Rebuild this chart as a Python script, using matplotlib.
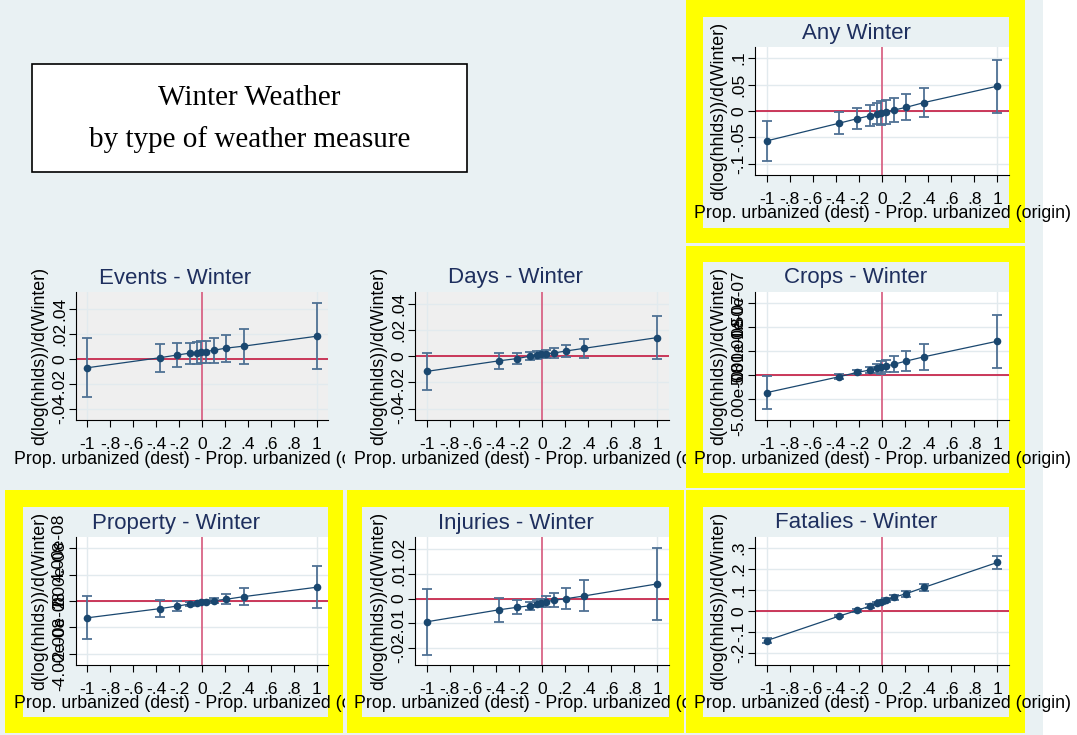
import matplotlib
matplotlib.use("Agg")
import matplotlib.pyplot as plt
from matplotlib.patches import Rectangle
from matplotlib.transforms import Bbox, TransformedBbox

plt.rcParams["font.family"] = ["Liberation Sans", "DejaVu Sans"]

# ---------------------------------------------------------------- data
# urbanization gap (destination minus origin) at which effects are evaluated
urban_gap = [-1.0, -0.37, -0.215, -0.105, -0.043, -0.005, 0.038, 0.108, 0.21, 0.365, 1.0]

x_ticks = [-1.0, -0.8, -0.6, -0.4, -0.2, 0.0, 0.2, 0.4, 0.6, 0.8, 1.0]
x_tick_labels = ["-1", "-.8", "-.6", "-.4", "-.2", "0", ".2", ".4", ".6", ".8", "1"]

any_coef = [-0.0566, -0.023, -0.0145, -0.009, -0.005, -0.004, -0.002, 0.002, 0.007, 0.016, 0.047]
any_ci = [0.0375, 0.0205, 0.020, 0.020, 0.020, 0.022, 0.0225, 0.0225, 0.0245, 0.028, 0.050]

events_coef = [-0.0072, 0.0008, 0.003, 0.0045, 0.005, 0.0053, 0.0058, 0.0069, 0.0085, 0.0101, 0.018]
events_ci = [0.0235, 0.0112, 0.0099, 0.0085, 0.0088, 0.0088, 0.0088, 0.0099, 0.0109, 0.0139, 0.0263]

days_coef = [-0.0116, -0.0035, -0.0018, 0.0, 0.001, 0.0013, 0.0018, 0.0025, 0.004, 0.006, 0.0142]
days_ci = [0.0144, 0.0059, 0.0042, 0.0030, 0.0028, 0.0030, 0.0032, 0.0039, 0.0049, 0.0073, 0.0161]

crops_coef = [-3.68e-8, -0.35e-8, 0.56e-8, 1.04e-8, 1.39e-8, 1.60e-8, 1.88e-8, 2.29e-8, 2.92e-8, 3.82e-8, 7.08e-8]
crops_ci = [3.4e-8, 0.5e-8, 0.4e-8, 0.7e-8, 1.0e-8, 1.3e-8, 1.3e-8, 1.6e-8, 2.05e-8, 2.75e-8, 5.55e-8]

property_coef = [-1.27e-8, -0.58e-8, -0.38e-8, -0.23e-8, -0.15e-8, -0.10e-8, -0.05e-8, 0.03e-8, 0.13e-8, 0.33e-8, 1.04e-8]
property_ci = [1.63e-8, 0.63e-8, 0.40e-8, 0.17e-8, 0.10e-8, 0.08e-8, 0.10e-8, 0.20e-8, 0.37e-8, 0.62e-8, 1.60e-8]

injuries_coef = [-0.0094, -0.0045, -0.0035, -0.0029, -0.002, -0.0016, -0.0012, -0.0006, 0.0, 0.0011, 0.006]
injuries_ci = [0.0133, 0.0048, 0.0028, 0.0017, 0.0014, 0.0016, 0.0022, 0.0027, 0.0042, 0.0063, 0.0146]

fatal_coef = [-0.14, -0.0236, 0.003, 0.0236, 0.036, 0.042, 0.052, 0.066, 0.082, 0.112, 0.23]
fatal_ci = [0.011, 0.006, 0.007, 0.008, 0.009, 0.010, 0.010, 0.012, 0.014, 0.018, 0.030]

# y-axis ticks and labels per panel
any_yticks = [-0.1, -0.05, 0.0, 0.05, 0.1]
any_ylabels = ["-.1", "-.05", "0", ".05", ".1"]
small_yticks = [-0.04, -0.02, 0.0, 0.02, 0.04]
small_ylabels = ["-.04", "-.02", "0", ".02", ".04"]
crops_yticks = [-5e-8, 0.0, 5e-8, 1e-7, 1.5e-7]
crops_ylabels = ["-5.00e-08", "0", "5.00e-08", "1.00e-07", "1.50e-07"]
property_yticks = [-4e-8, -2e-8, 0.0, 2e-8, 4e-8]
property_ylabels = ["-4.00e-08", "-2.00e-08", "0", "2.00e-08", "4.00e-08"]
injuries_yticks = [-0.02, -0.01, 0.0, 0.01, 0.02]
injuries_ylabels = ["-.02", "-.01", "0", ".01", ".02"]
fatal_yticks = [-0.2, -0.1, 0.0, 0.1, 0.2, 0.3]
fatal_ylabels = ["-.2", "-.1", "0", ".1", ".2", ".3"]

y_title = "d(log(hhlds))/d(Winter)"
x_title = "Prop. urbanized (dest) - Prop. urbanized (origin)"

# ---------------------------------------------------------------- layout
W, H, DPI = 1077, 735, 100
BG = "#e9f1f3"
YELLOW = "#ffff00"
NAVY = "#1a476f"
CI_COLOR = "#4f7194"
TITLE_COLOR = "#1e2f5e"
GRID = "#e2eaee"
HLINE = "#c4183f"
VLINE = "#d6587c"

col_x = [(76, 328), (415, 669), (755, 1009)]
row_y = [(47, 175), (292, 420), (537, 665)]
inner_x = [(23, 328), (362, 669), (703, 1009)]
inner_y = [(17, 228), (262, 473), (507, 717)]
yellow_x = [(5, 343), (347, 684), (686, 1025)]
yellow_y = [(0, 243), (246, 488), (490, 733)]
clip_right = [345, 686, W]

panels = [
    dict(title="Any Winter", coef=any_coef, ci=any_ci, yt=any_yticks, yl=any_ylabels,
         ylim=(-0.121, 0.121), col=2, row=0, hl=True),
    dict(title="Events - Winter", coef=events_coef, ci=events_ci, yt=small_yticks, yl=small_ylabels,
         ylim=(-0.049, 0.0534), col=0, row=1, hl=False),
    dict(title="Days - Winter", coef=days_coef, ci=days_ci, yt=small_yticks, yl=small_ylabels,
         ylim=(-0.0486, 0.0489), col=1, row=1, hl=False),
    dict(title="Crops - Winter", coef=crops_coef, ci=crops_ci, yt=crops_yticks, yl=crops_ylabels,
         ylim=(-9.4e-8, 1.736e-7), col=2, row=1, hl=True),
    dict(title="Property - Winter", coef=property_coef, ci=property_ci, yt=property_yticks,
         yl=property_ylabels, ylim=(-4.84e-8, 4.84e-8), col=0, row=2, hl=True),
    dict(title="Injuries - Winter", coef=injuries_coef, ci=injuries_ci, yt=injuries_yticks,
         yl=injuries_ylabels, ylim=(-0.0269, 0.025), col=1, row=2, hl=True),
    dict(title="Fatalies - Winter", coef=fatal_coef, ci=fatal_ci, yt=fatal_yticks, yl=fatal_ylabels,
         ylim=(-0.255, 0.35), col=2, row=2, hl=True),
]


def fx(px):
    return px / W


def fy(py):
    return 1 - py / H


def fig_rect(x0, y0, x1, y1, **kw):
    return Rectangle((fx(x0), fy(y1)), (x1 - x0) / W, (y1 - y0) / H,
                     transform=fig.transFigure, **kw)


fig = plt.figure(figsize=(W / DPI, H / DPI), dpi=DPI, facecolor="white")
fig.patches.append(fig_rect(0, 0, 1043, H, facecolor=BG, edgecolor="none", zorder=-3))

# title box
fig.patches.append(fig_rect(32, 64, 467, 172, facecolor="white", edgecolor="black",
                            linewidth=1.2, zorder=-1))
for line, ypx in (("Winter Weather", 98), ("by type of weather measure", 140)):
    fig.text(fx(249.5), fy(ypx), line, ha="center", va="center", fontsize=21,
             family=["Liberation Serif", "DejaVu Serif"], color="black")

for p in panels:
    c, r = p["col"], p["row"]
    x0, x1 = col_x[c]
    y0, y1 = row_y[r]
    ix0, ix1 = inner_x[c]
    iy0, iy1 = inner_y[r]

    if p["hl"]:
        yx0, yx1 = yellow_x[c]
        yy0, yy1 = yellow_y[r]
        fig.patches.append(fig_rect(yx0, yy0, yx1, yy1, facecolor=YELLOW, edgecolor="none", zorder=-2))
        fig.patches.append(fig_rect(ix0, iy0, ix1, iy1, facecolor=BG, edgecolor="none", zorder=-1))

    ax = fig.add_axes([fx(x0), fy(y1), (x1 - x0) / W, (y1 - y0) / H])
    ax.set_facecolor("white" if p["hl"] else "#efefef")
    ax.set_xlim(-1.1, 1.1)
    ax.set_ylim(*p["ylim"])
    for s in ("top", "right"):
        ax.spines[s].set_visible(False)
    for s in ("left", "bottom"):
        ax.spines[s].set_linewidth(0.8)
        ax.spines[s].set_color("black")

    ax.set_xticks(x_ticks, x_tick_labels)
    ax.set_yticks(p["yt"], p["yl"])
    ax.tick_params(axis="both", direction="out", length=5, width=0.8, colors="black", labelsize=12.5)
    ax.tick_params(axis="x", pad=7)
    ax.tick_params(axis="y", pad=1.5)
    for lab in ax.get_yticklabels():
        lab.set_rotation(90)
        lab.set_va("center")

    for yv in p["yt"]:
        ax.axhline(yv, color=GRID, linewidth=1.0, zorder=0.5)
    for xv in (x_ticks[0], x_ticks[-1]):
        ax.axvline(xv, color=GRID, linewidth=1.0, zorder=0.5)

    ax.axhline(0, color=HLINE, linewidth=1.2, zorder=1)
    ax.axvline(0, color=VLINE, linewidth=1.2, zorder=1)

    ax.errorbar(urban_gap, p["coef"], yerr=p["ci"], fmt="none", ecolor=CI_COLOR,
                elinewidth=1.3, capsize=3.6, capthick=1.3, zorder=2)
    ax.plot(urban_gap, p["coef"], color=NAVY, linewidth=0.9, marker="o", markersize=5.5,
            markeredgewidth=0, zorder=3)

    ax.text(-36 / (x1 - x0), 0.5, y_title, transform=ax.transAxes, rotation=90,
            ha="center", va="center", fontsize=12.8, color="black", clip_on=False)

    fig.text(fx((ix0 + ix1) / 2), fy(iy0 + 16), p["title"], ha="center", va="center",
             fontsize=16, color=TITLE_COLOR)

    xt = fig.text(fx((x0 + x1) / 2), fy(y1 + 39), x_title, ha="center", va="center",
                  fontsize=12.8, color="black")
    xt.set_clip_on(True)
    xt.set_clip_box(TransformedBbox(Bbox.from_extents(0, 0, fx(clip_right[c]), 1), fig.transFigure))

fig.savefig("out.png", dpi=DPI, facecolor=fig.get_facecolor())
